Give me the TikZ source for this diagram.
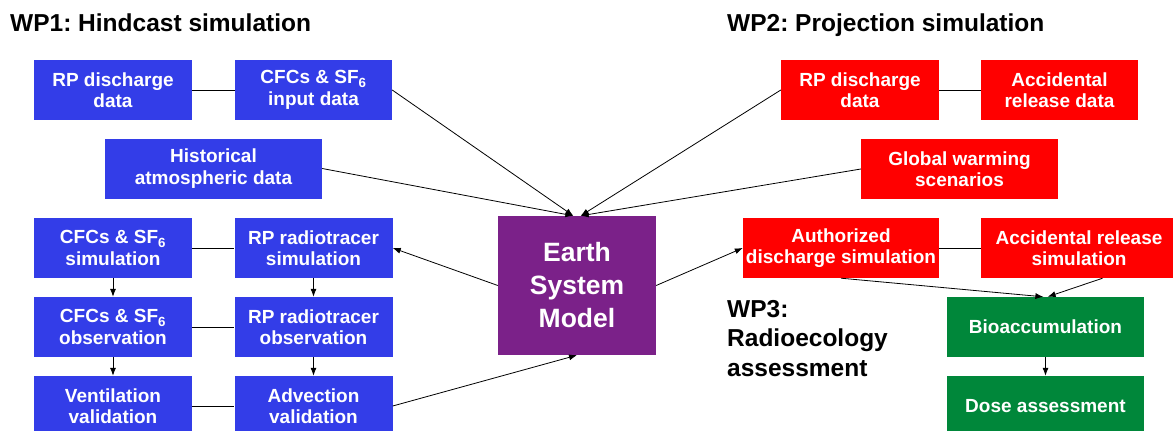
\documentclass[tikz,border=0pt]{standalone}
\usepackage{fontspec}
\setmainfont{Liberation Sans}
\usetikzlibrary{arrows.meta}
\frenchspacing

\definecolor{wpblue}{RGB}{51,61,232}
\definecolor{wpred}{RGB}{255,0,0}
\definecolor{wpgreen}{RGB}{0,135,58}
\definecolor{esmpurple}{RGB}{123,33,137}

\begin{document}
\begin{tikzpicture}[x=1pt, y=-1pt,
        box/.style={minimum width=158pt, minimum height=60pt, inner sep=0pt, align=center, text=white,
            font=\bfseries\fontsize{19}{21.5}\selectfont},
        wpone/.style={box, fill=wpblue},
        wptwo/.style={box, fill=wpred},
        wpthree/.style={box, fill=wpgreen, minimum width=197pt},
        wptitle/.style={anchor=base west, inner sep=0pt, align=left, font=\bfseries\fontsize{24.5}{29.5}\selectfont},
        link/.style={line width=0.8pt},
        flow/.style={line width=0.8pt, -{Latex[length=8pt,width=6pt]}}]
        \useasboundingbox (0,0) rectangle (1173,431);

        % Work package titles
        \node[wptitle] (wp1) at (10,31) {WP1: Hindcast simulation};
        \node[wptitle] (wp2) at (727,31) {WP2: Projection simulation};
        \node[wptitle] (wp3) at (727,376) {WP3:\\Radioecology\\assessment};

        % WP1 boxes
        \node[wpone] (rpdata) at (113,90) {RP discharge\\data};
        \node[wpone, minimum width=157pt] (cfcin) at (313.5,90) {CFCs \& SF\textsubscript{6}\\input data};
        \node[wpone, minimum width=217pt] (hist) at (213.5,168.5) {Historical\\atmospheric data};
        \node[wpone] (cfcsim) at (113,248) {CFCs \& SF\textsubscript{6}\\simulation};
        \node[wpone] (rpsim) at (313.5,248) {RP radiotracer\\simulation};
        \node[wpone] (cfcobs) at (113,327) {CFCs \& SF\textsubscript{6}\\observation};
        \node[wpone] (rpobs) at (313.5,327) {RP radiotracer\\observation};
        \node[wpone] (vent) at (113,406) {Ventilation\\validation};
        \node[wpone] (adv) at (313.5,406) {Advection\\validation};

        % The model in the middle
        \node[box, fill=esmpurple, minimum height=139pt, font=\bfseries\fontsize{26.5}{33}\selectfont] (esm) at (577,285.5) {Earth\\System\\Model};

        % WP2 boxes
        \node[wptwo] (rpproj) at (860,90) {RP discharge\\data};
        \node[wptwo, minimum width=157pt] (accdata) at (1059.5,90) {Accidental\\release data};
        \node[wptwo, minimum width=197pt] (warming) at (959.5,169) {Global warming\\scenarios};
        \node[wptwo, minimum width=196pt] (authsim) at (841,248) {Authorized\\discharge simulation};
        \node[wptwo, minimum width=196pt] (accsim) at (1079,248) {Accidental release\\simulation};

        % WP3 boxes
        \node[wpthree] (bio) at (1045.5,327) {Bioaccumulation};
        \node[wpthree] (dose) at (1045.5,406) {Dose assessment};

        % Plain links between boxes
        \draw[link] (rpdata) -- (cfcin);
        \draw[link] (cfcsim) -- (rpsim);
        \draw[link] (cfcobs) -- (rpobs);
        \draw[link] (vent) -- (adv);
        \draw[link] (rpproj) -- (accdata);
        \draw[link] (authsim) -- (accsim);

        % Inputs into the model
        \draw[flow] (cfcin.east) -- (esm.93);
        \draw[flow] (hist.east) -- (esm.93);
        \draw[flow] (rpproj.west) -- (esm.87);
        \draw[flow] (warming.west) -- (esm.87);
        \draw[flow] (adv.east) -- (esm.south);

        % Outputs of the model
        \draw[flow] (esm.west) -- (rpsim.east);
        \draw[flow] (esm.east) -- (authsim.west);

        % Validation chains
        \draw[flow] (cfcsim) -- (cfcobs);
        \draw[flow] (cfcobs) -- (vent);
        \draw[flow] (rpsim) -- (rpobs);
        \draw[flow] (rpobs) -- (adv);

        % Radioecology
        \draw[flow] (authsim.south) -- (bio.94);
        \draw[flow] (accsim.-52) -- (bio.86);
        \draw[flow] (bio) -- (dose);
    \end{tikzpicture}
\end{document}
